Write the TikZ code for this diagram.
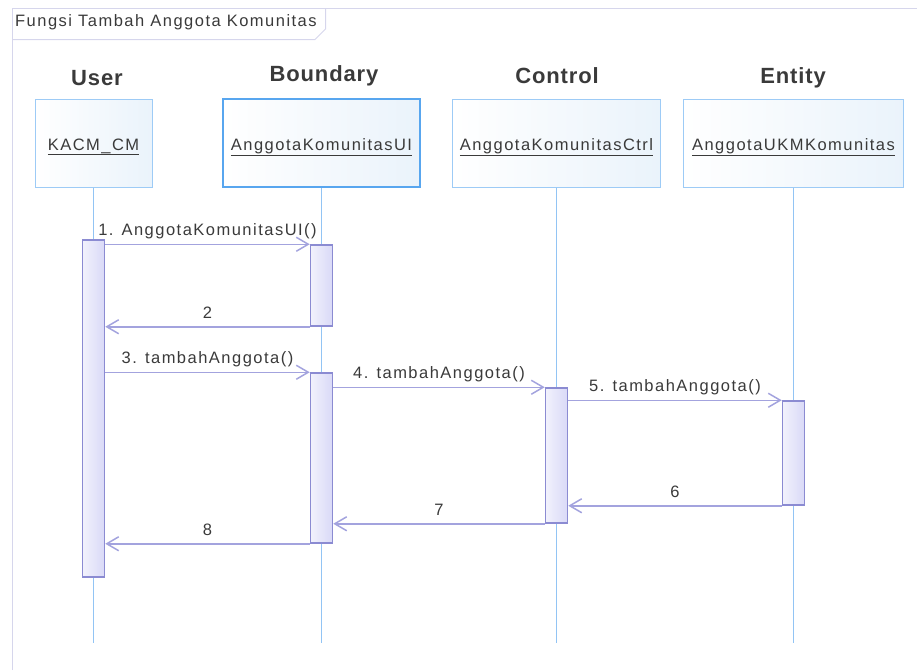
\documentclass[tikz,border=0pt]{standalone}
\usepackage{fontspec}
\newfontfamily\umlfont[LetterSpace=9]{Liberation Sans}
\newfontfamily\umlhead[LetterSpace=4]{Liberation Sans}
\usepackage{tikz}
\usetikzlibrary{arrows.meta,calc}
\definecolor{ink}{HTML}{3A3A3A}
\definecolor{frameLn}{HTML}{D6D6EC}
\definecolor{objLn}{HTML}{9DCBF6}
\definecolor{bndLn}{HTML}{58A6EF}
\definecolor{objFill}{HTML}{EAF3FB}
\definecolor{lifeLn}{HTML}{92C4F4}
\definecolor{actLn}{HTML}{8B8BD2}
\definecolor{actFill}{HTML}{D9D9F7}
\definecolor{msgLn}{HTML}{A3A3DE}
\tikzset{
  lbl/.style={font=\umlfont\fontsize{16.5}{19}\selectfont, text=ink, inner sep=1pt},
  head/.style={font=\umlhead\bfseries\fontsize{22}{26}\selectfont, text=ink, anchor=base},
}

\begin{document}
\begin{tikzpicture}[x=1pt, y=-1pt,
  obj/.style={rectangle, draw=objLn, line width=1pt, left color=white, right color=objFill, minimum height=88pt, text height=14pt, text depth=0pt, lbl},
  act/.style={rectangle, draw=actLn, line width=1.5pt, left color=actFill!35, right color=actFill, minimum width=22pt, inner sep=0pt},
  life/.style={draw=lifeLn, line width=1pt},
  msg/.style={-{Straight Barb[length=12pt, width=14pt]}, draw=msgLn, line width=1.5pt},
  mlbl/.style={lbl, midway, anchor=base, yshift=8.5pt}]
\useasboundingbox (0,0) rectangle (917,670);
\draw[frameLn, line width=1pt] (12,670) -- (12,8) -- (917,8);
\draw[frameLn, line width=1pt] (12,39.5) -- (315,39.5) -- (325.5,29) -- (325.5,8);
\node[lbl, anchor=base west] (title) at (14,26) {Fungsi Tambah Anggota Komunitas};
\node[head] (hUser) at (97,85) {User};
\node[head] (hBnd) at (324,81) {Boundary};
\node[head] (hCtrl) at (557,83) {Control};
\node[head] (hEnt) at (793,83) {Entity};
\node[obj, minimum width=117pt] (user) at (93.5,143) {\underline{KACM\_CM}};
\node[obj, minimum width=197pt, draw=bndLn, line width=2pt] (bnd) at (321.5,143) {\underline{AnggotaKomunitasUI}};
\node[obj, minimum width=208pt] (ctrl) at (556.5,143) {\underline{AnggotaKomunitasCtrl}};
\node[obj, minimum width=220pt] (ent) at (793.5,143) {\underline{AnggotaUKMKomunitas}};
\coordinate (endUser) at (93.5,643);
\coordinate (endBnd) at (321.5,643);
\coordinate (endCtrl) at (556.5,643);
\coordinate (endEnt) at (793.5,643);
\draw[life] (user.south) -- (endUser); \draw[life] (bnd.south) -- (endBnd);
\draw[life] (ctrl.south) -- (endCtrl); \draw[life] (ent.south) -- (endEnt);
\node[act, minimum height=337pt] (aUser) at (93.5,408.5) {};
\node[act, minimum height=81pt] (aBnd1) at (321.5,285.5) {};
\node[act, minimum height=170pt] (aBnd2) at (321.5,458) {};
\node[act, minimum height=135pt] (aCtrl) at (556.5,455.5) {};
\node[act, minimum height=104pt] (aEnt) at (793.5,453) {};
\draw[msg] (aUser.east |- aBnd1.north) -- node[mlbl] {1. AnggotaKomunitasUI()} (aBnd1.north west);
\draw[msg] (aBnd1.south west) -- node[mlbl] {2} (aUser.east |- aBnd1.south);
\draw[msg] (aUser.east |- aBnd2.north) -- node[mlbl] {3. tambahAnggota()} (aBnd2.north west);
\draw[msg] (aBnd2.east |- aCtrl.north) -- node[mlbl] {4. tambahAnggota()} (aCtrl.north west);
\draw[msg] (aCtrl.east |- aEnt.north) -- node[mlbl] {5. tambahAnggota()} (aEnt.north west);
\draw[msg] (aEnt.south west) -- node[mlbl] {6} (aCtrl.east |- aEnt.south);
\draw[msg] (aCtrl.south west) -- node[mlbl] {7} (aBnd2.east |- aCtrl.south);
\draw[msg] (aBnd2.south west) -- node[mlbl] {8} (aUser.east |- aBnd2.south);
\end{tikzpicture}
\end{document}
